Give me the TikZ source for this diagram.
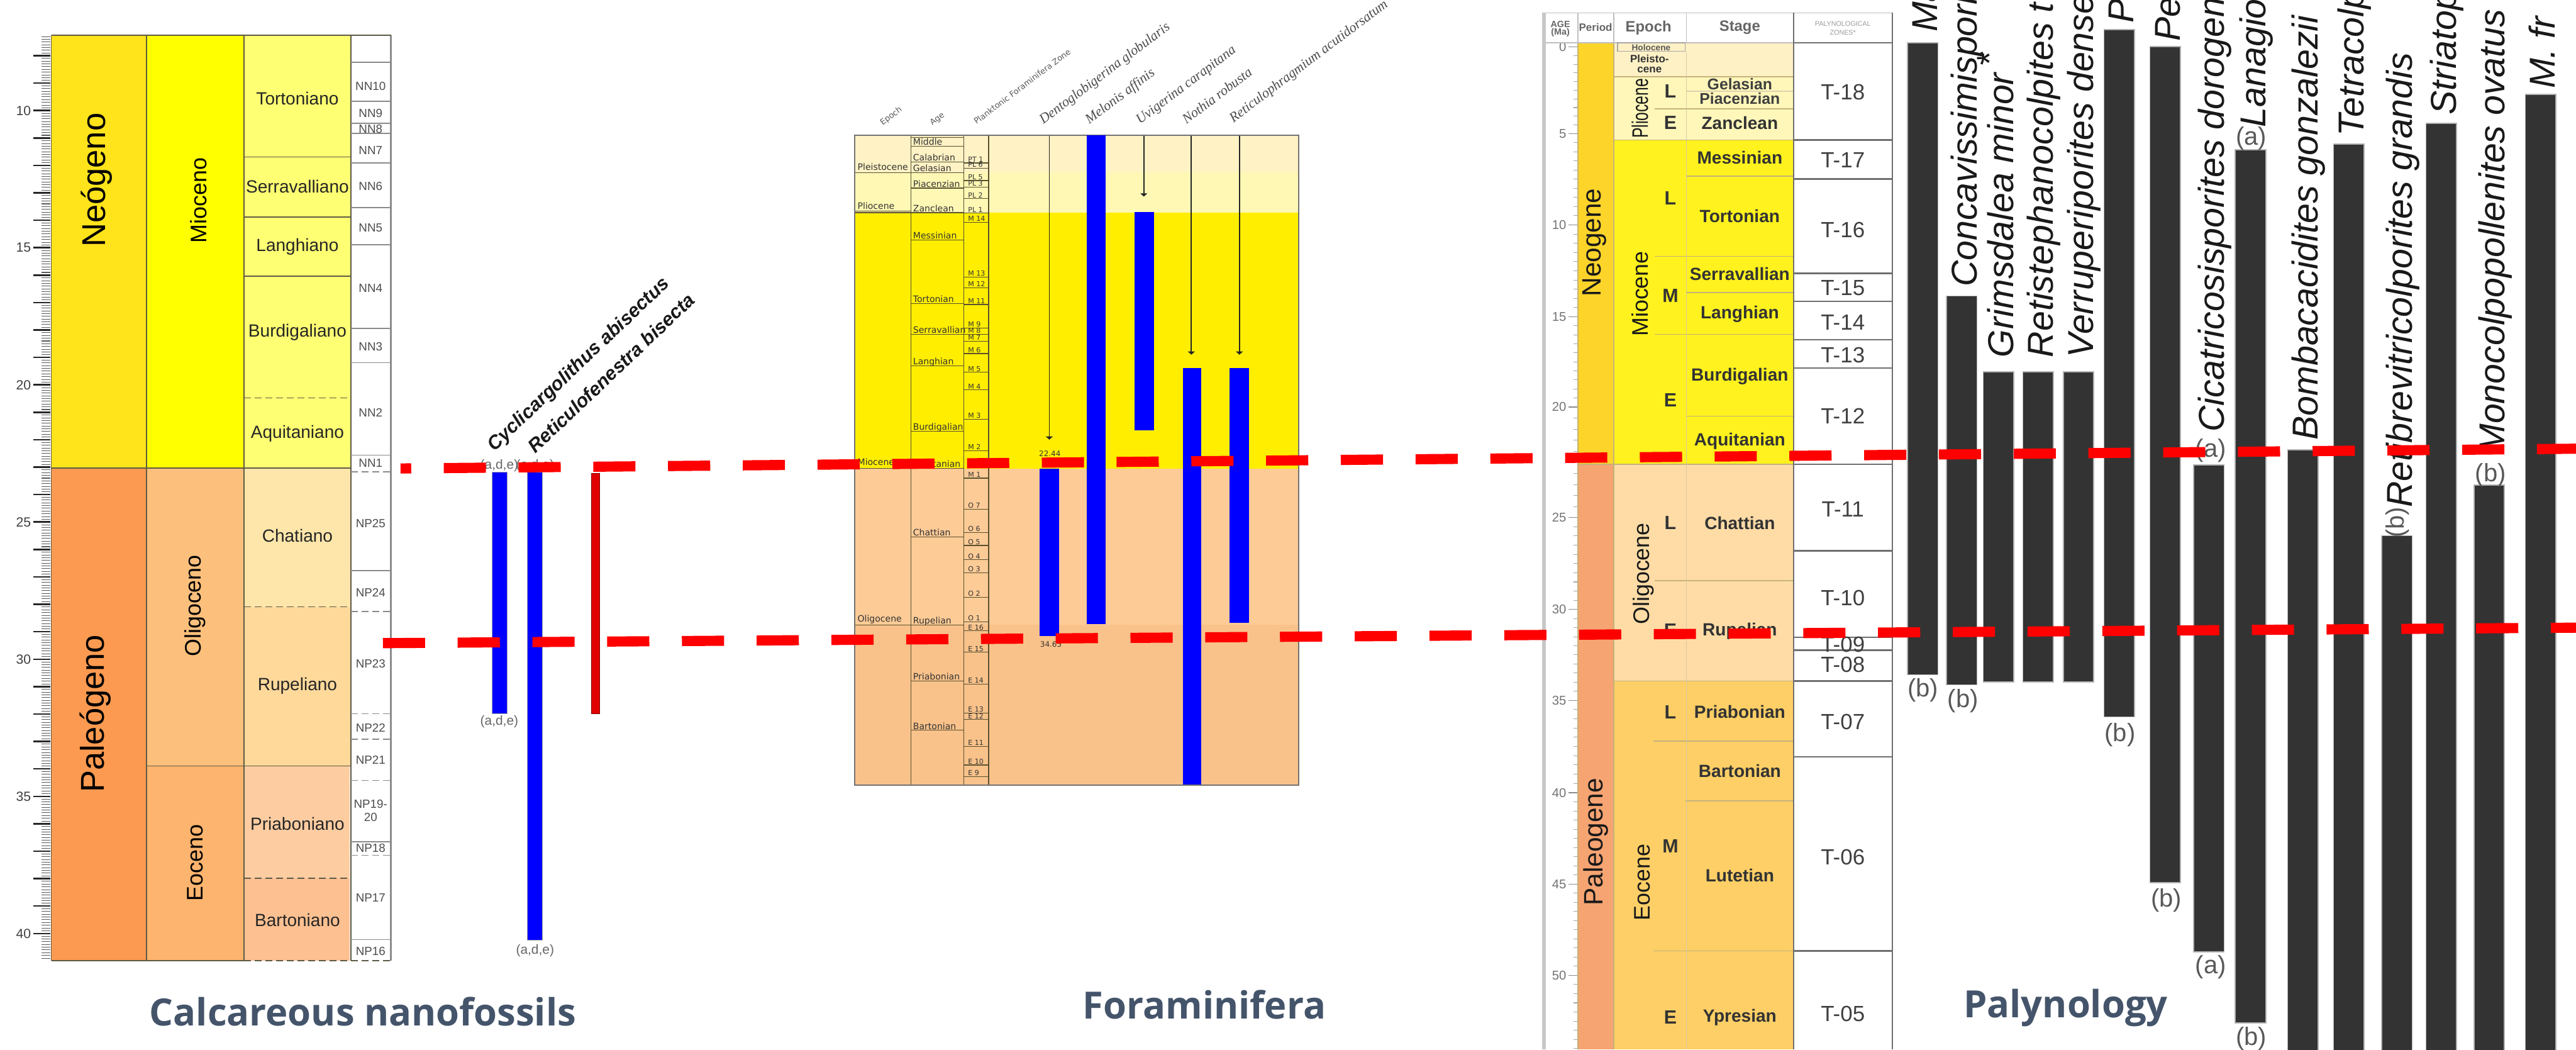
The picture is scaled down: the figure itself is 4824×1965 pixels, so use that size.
\documentclass[tikz,border=0pt]{standalone}
\usepackage{fontspec}
\setmainfont{Liberation Sans}
\newfontfamily\timesface{Liberation Serif}
\newfontfamily\dejavu{DejaVu Sans}
\newfontfamily\titleface{Open Sans}
\usetikzlibrary{arrows.meta}
\newcommand\fsz[1]{\fontsize{#1}{#1}\selectfont}
% nanofossil time scale
\definecolor{ngP}{HTML}{FFE31B}
\definecolor{pgP}{HTML}{FB9A50}
\definecolor{mioE}{HTML}{FFFF00}
\definecolor{oliE}{HTML}{FDC07C}
\definecolor{eocE}{HTML}{FCB46E}
\definecolor{mioS}{HTML}{FFFF73}
\definecolor{chaS}{HTML}{FEE6AA}
\definecolor{rupS}{HTML}{FED99A}
\definecolor{priS}{HTML}{FDCDA1}
\definecolor{barS}{HTML}{FDC091}
\definecolor{cline}{HTML}{5E5A46}
\definecolor{zline}{HTML}{8A8A8A}
% foraminifera chart
\definecolor{fPle}{HTML}{FFF2C4}
\definecolor{fPli}{HTML}{FFF8B5}
\definecolor{fMio}{HTML}{FFEE00}
\definecolor{fOli}{HTML}{FDCB96}
\definecolor{fEoc}{HTML}{F9C28A}
\definecolor{fline}{HTML}{5A5030}
% palynology chart
\definecolor{pNeo}{HTML}{FDD42A}
\definecolor{pPal}{HTML}{F6A472}
\definecolor{pPle}{HTML}{FFF1C6}
\definecolor{pPli}{HTML}{FFF7BA}
\definecolor{pMio}{HTML}{FFF21E}
\definecolor{pOli}{HTML}{FFDCA6}
\definecolor{pEoc}{HTML}{FDCF66}
\definecolor{pline}{HTML}{C4B27A}
\definecolor{zbord}{HTML}{6F6F6F}
\definecolor{taxon}{HTML}{333333}
\definecolor{titleblue}{HTML}{44546A}
\definecolor{dashred}{HTML}{FF0000}
\definecolor{rangeblue}{HTML}{0000FF}
\begin{document}
\begin{tikzpicture}[x=0.1mm,y=-0.1mm,
  every node/.style={inner sep=0pt,outer sep=0pt},
  colline/.style={draw=cline,line width=0.2mm},
  nnline/.style={draw=zline,line width=0.2mm},
  dashgrid/.style={dash pattern=on 1.3mm off 0.7mm},
  minortick/.style={draw=black!65,line width=0.12mm},
  majortick/.style={draw=black!85,line width=0.3mm},
  nstage/.style={font=\fsz{9.4pt},text=black!85},
  nzone/.style={font=\fsz{6.3pt},text=black!70},
  nruler/.style={font=\fsz{7.1pt},text=black!75,anchor=east},
  nperiod/.style={font=\fsz{17.6pt},rotate=90},
  nepoch/.style={font=\fsz{12pt},rotate=90},
  nspec/.style={font=\fsz{10.2pt}\bfseries\itshape,text=black!90,rotate=43.5,anchor=base west},
  nade/.style={font=\fsz{7pt},text=black!60},
  rangebar/.style={fill=rangeblue,draw=black!35,line width=0.1mm},
  fborder/.style={draw=black!55,line width=0.25mm},
  fcol/.style={draw=fline,line width=0.2mm},
  fthin/.style={draw=fline,line width=0.15mm},
  fage/.style={font=\dejavu\fsz{4.7pt},text=black!80,anchor=base west},
  fzone/.style={font=\dejavu\fsz{3.7pt},text=black!80,anchor=base west},
  fhead/.style={font=\dejavu\fsz{4.3pt},text=black!65,rotate=37,anchor=base west},
  fspec/.style={font=\timesface\itshape\fsz{7.4pt},text=black!70,rotate=37,anchor=base west},
  fnum/.style={font=\dejavu\fsz{4pt},text=black!80},
  fbar/.style={fill=rangeblue},
  farrow/.style={draw=black!85,line width=0.22mm,-{Triangle[width=1.3mm,length=0.6mm]}},
  pgrid/.style={draw=pline,line width=0.2mm},
  zgrid/.style={draw=zbord,line width=0.3mm},
  hgrid/.style={draw=black!25,line width=0.2mm},
  ptick/.style={draw=black!35,line width=0.12mm},
  pstage/.style={font=\fsz{9.4pt}\bfseries,text=black!80},
  plme/.style={font=\fsz{10.2pt}\bfseries,text=black!80},
  pzone/.style={font=\fsz{11.7pt},text=black!75},
  pperiod/.style={font=\fsz{14.2pt},rotate=90,text=black!90},
  pepoch/.style={font=\fsz{12pt},rotate=90,text=black!90},
  phead/.style={font=\fsz{8pt}\bfseries,text=black!60},
  pruler/.style={font=\fsz{6.8pt},text=black!55,anchor=east},
  taxbar/.style={fill=taxon,draw=black!30,line width=0.2mm},
  ptaxon/.style={font=\fsz{19.2pt}\itshape,text=black!90,rotate=90,anchor=base west},
  pab/.style={font=\fsz{13.4pt},text=black!65},
  paneltitle/.style={font=\titleface\bfseries\fsz{20pt},text=titleblue,anchor=base west},
  corr/.style={draw=dashred,line width=1.9mm,dash pattern=on 7.9mm off 6.1mm}
]
\useasboundingbox (0,0) rectangle (4824,1965);
\clip (0,0) rectangle (4824,1965);

% ================= Calcareous nanofossils =================
\fill[ngP]  (96,66)   rectangle (274,876);
\fill[pgP]  (96,876)  rectangle (274,1798);
\fill[mioE] (274,66)  rectangle (457,876);
\fill[oliE] (274,876) rectangle (457,1434);
\fill[eocE] (274,1434) rectangle (457,1798);
\fill[mioS] (457,66)  rectangle (657,876);
\fill[chaS] (457,876) rectangle (657,1136);
\fill[rupS] (457,1136) rectangle (657,1434);
\fill[priS] (457,1434) rectangle (655,1644);
\fill[barS] (457,1644) rectangle (655,1798);

% age ruler
\foreach \t in {73,...,409}
  \draw[minortick] (78,{207+(\t/10-10)*51.35}) -- (94,{207+(\t/10-10)*51.35});
\foreach \a in {8,...,40}
  \draw[majortick] (62,{207+(\a-10)*51.35}) -- (94,{207+(\a-10)*51.35});
\foreach \a in {10,15,...,40}
  \node[nruler] (nr\a) at (58,{207+(\a-10)*51.35}) {\a};

% column frame
\foreach \xx in {96,274,457,657}
  \draw[colline] (\xx,66) -- (\xx,1798);
\draw[draw=black!45,line width=0.3mm] (732,66) -- (732,1798);
\draw[colline] (96,66) -- (732,66);
\draw[colline] (457,294) -- (657,294);
\draw[colline] (457,406) -- (657,406);
\draw[colline] (457,517) -- (657,517);
\draw[colline,dashgrid] (457,745) -- (655,745);
\draw[colline] (96,876) -- (657,876);
\draw[colline,dashgrid] (457,1136) -- (657,1136);
\draw[colline] (274,1434) -- (657,1434);
\draw[colline,dashgrid] (457,1644) -- (657,1644);
\draw[colline] (96,1798) -- (457,1798);
\draw[colline,dashgrid] (457,1798) -- (732,1798);
\foreach \yy in {117,190,231,250,305,389,458,615,679,852,1068,1576,1759}
  \draw[nnline] (657,\yy) -- (732,\yy);
\foreach \yy in {883,1145,1336,1384,1461,1601}
  \draw[nnline,dashgrid] (657,\yy) -- (732,\yy);

% period, epoch and stage names
\node[nperiod] (neogeno) at (181,337) {Neógeno};
\node[nperiod] (paleogeno) at (179,1336) {Paleógeno};
\node[nepoch] (mioceno) at (372,375) {Mioceno};
\node[nepoch] (oligoceno) at (365,1134) {Oligoceno};
\node[nepoch] (eoceno) at (366,1615) {Eoceno};
\foreach \lab/\yy [count=\i] in {Tortoniano/184,Serravalliano/349,Langhiano/462,Burdigaliano/622,Aquitaniano/812,Chatiano/1003,Rupeliano/1284,Priaboniano/1542,Bartoniano/1722}
  \node[nstage] (nst\i) at (557,\yy) {\lab};
\foreach \lab/\yy [count=\i] in {NN10/161,NN9/212,NN8/241,NN7/281,NN6/349,NN5/426,NN4/539,NN3/649,NN2/773,NN1/867,NP25/980,NP24/1109,NP23/1243,NP22/1362,NP21/1423,NP18/1588,NP17/1681,NP16/1781}
  \node[nzone] (nz\i) at (694,\yy) {\lab};
\node[nzone] (nz19a) at (694,1505) {NP19-};
\node[nzone] (nz19b) at (694,1530) {20};

% nanofossil ranges
\fill[rangebar] (921,884) rectangle (950,1336);
\fill[rangebar] (988,884) rectangle (1016,1760);
\path[fill=red!88!black,draw=red!50!black,line width=0.1mm] (1107,886) rectangle (1123,1336);
\node[nade] (adeA1) at (935,872) {(a,d,e)};
\node[nade] (adeB1) at (1002,872) {(a,d,e)};
\node[nade] (adeA2) at (935,1351) {(a,d,e)};
\node[nade] (adeB2) at (1002,1780) {(a,d,e)};
\node[nspec] (cycli) at (926,846) {Cyclicargolithus abisectus};
\node[nspec] (retfen) at (1003,850) {Reticulofenestra bisecta};

% ================= Foraminifera =================
\fill[fPle] (1601,253) rectangle (2432,323);
\fill[fPli] (1601,323) rectangle (2432,398);
\fill[fMio] (1601,398) rectangle (2432,877);
\fill[fOli] (1601,877) rectangle (2432,1170);
\fill[fEoc] (1601,1170) rectangle (2432,1470);
\foreach \xx in {1706,1805,1851}
  \draw[fcol] (\xx,253) -- (\xx,1470);
\foreach \yy in {323,395,398,877,1170}
  \draw[fthin] (1601,\yy) -- (1706,\yy);
\foreach \yy in {257,274,303,323,352,398,449,568,626,685,807,877,1005,1170,1275,1367}
  \draw[fthin] (1706,\yy) -- (1805,\yy);
\foreach \yy in {305,315,338,350,372,399,416,519,539,570,614,626,639,662,697,730,785,844,895,953,997,1021,1048,1072,1118,1164,1181,1221,1281,1335,1347,1397,1432,1454}
  \draw[fthin] (1805,\yy) -- (1851,\yy);
\draw[fborder] (1601,253) rectangle (2432,1470);

\foreach \lab/\yy [count=\i] in {Pleistocene/318,Pliocene/392,Miocene/871,Oligocene/1164}
  \node[fage] (fep\i) at (1606,\yy) {\lab};
\foreach \lab/\yy [count=\i] in {Middle/272,Calabrian/301,Gelasian/321,Piacenzian/350,Zanclean/396,Messinian/447,Tortonian/566,Serravallian/624,Langhian/683,Burdigalian/805,Aquitanian/875,Chattian/1003,Rupelian/1168,Priabonian/1273,Bartonian/1365}
  \node[fage] (fag\i) at (1710,\yy) {\lab};
\foreach \lab/\yy [count=\i] in {PT 1/303,PL 6/313,PL 5/336,PL 3/348,PL 2/370,PL 1/398,M 14/414,M 13/517,M 12/537,M 11/568,M 9/612,M 8/624,M 7/637,M 6/660,M 5/695,M 4/728,M 3/783,M 2/842,M 1/893,O 7/951,O 6/995,O 5/1019,O 4/1046,O 3/1070,O 2/1116,O 1/1162,E 16/1179,E 15/1219,E 14/1279,E 13/1333,E 12/1345,E 11/1395,E 10/1430,E 9/1452}
  \node[fzone] (fz\i) at (1813,\yy) {\lab};

\node[fhead] (hEpoch) at (1653,235) {Epoch};
\node[fhead] (hAge) at (1746,235) {Age};
\node[fhead] (hZone) at (1829,233) {Planktonic Foraminifera Zone};
\node[fspec] (sDento) at (1954,233) {Dentoglobigerina globularis};
\node[fspec] (sMelo) at (2040,233) {Melonis affinis};
\node[fspec] (sUvig) at (2135,233) {Uvigerina carapitana};
\node[fspec] (sNoth) at (2222,233) {Nothia robusta};
\node[fspec] (sReti) at (2310,230) {Reticulophragmium acutidorsatum};

\fill[fbar] (1947,877) rectangle (1983,1191);
\fill[fbar] (2035,253) rectangle (2071,1168);
\fill[fbar] (2125,397) rectangle (2161,805);
\fill[fbar] (2215,689) rectangle (2250,1469);
\fill[fbar] (2303,689) rectangle (2339,1166);
\coordinate (aDentoTop) at (1965,254);
\coordinate (aDentoEnd) at (1965,823);
\coordinate (aUvigTop) at (2142,254);
\coordinate (aUvigEnd) at (2142,368);
\coordinate (aNothTop) at (2231,254);
\coordinate (aNothEnd) at (2231,664);
\coordinate (aRetiTop) at (2321,254);
\coordinate (aRetiEnd) at (2321,664);
\draw[farrow] (aDentoTop) -- (aDentoEnd);
\draw[farrow] (aUvigTop) -- (aUvigEnd);
\draw[farrow] (aNothTop) -- (aNothEnd);
\draw[farrow] (aRetiTop) -- (aRetiEnd);
\node[fnum] (nTop) at (1966,849) {22.44};
\node[fnum] (nBase) at (1968,1206) {34.65};

% ================= Palynology =================
\fill[pNeo] (2955,80) rectangle (3022,869);
\fill[pPal] (2955,869) rectangle (3022,1965);
\fill[pPle] (3022,80) rectangle (3359,144);
\fill[pPli] (3022,144) rectangle (3359,262);
\fill[pMio] (3022,262) rectangle (3359,869);
\fill[pOli] (3022,869) rectangle (3359,1275);
\fill[pEoc] (3022,1275) rectangle (3359,1965);

% ruler
\foreach \ya/\yb in {88/250,250/421,421/593,593/762,762/969,969/1141,1141/1311,1311/1484,1484/1655,1655/1826,1826/1997}{
  \foreach \k in {1,...,9}
    \draw[ptick] (2947,{\ya+\k*(\yb-\ya)/10}) -- (2955,{\ya+\k*(\yb-\ya)/10});
  \draw[draw=black!45,line width=0.15mm] (2937,\ya) -- (2955,\ya);
}
\foreach \a/\yy in {0/88,5/250,10/421,15/593,20/762,25/969,30/1141,35/1311,40/1484,45/1655,50/1826}
  \node[pruler] (pr\a) at (2933,\yy) {\a};

% grid of the time scale
\draw[pgrid] (2955,869) -- (3359,869);
\draw[pgrid] (3022,144) -- (3359,144);
\draw[pgrid] (3098,204) -- (3359,204);
\draw[pgrid,draw=pline!60] (3158,171) -- (3359,171);
\draw[pgrid] (3022,262) -- (3359,262);
\draw[pgrid] (3158,330) -- (3359,330);
\draw[pgrid] (3098,480) -- (3359,480);
\draw[pgrid] (3158,548) -- (3359,548);
\draw[pgrid] (3098,626) -- (3359,626);
\draw[pgrid] (3158,779) -- (3359,779);
\draw[pgrid] (3098,1087) -- (3359,1087);
\draw[pgrid] (3022,1275) -- (3359,1275);
\draw[pgrid] (3096,1387) -- (3359,1387);
\draw[pgrid] (3156,1499) -- (3359,1499);
\draw[pgrid] (3096,1780) -- (3359,1780);
\draw[pgrid] (2955,80) -- (2955,1965);
\draw[pgrid] (3022,80) -- (3022,1965);
\draw[pgrid,draw=pline!70] (3158,96) -- (3158,1965);

% header row
\draw[hgrid] (2892,24) -- (3544,24);
\draw[hgrid] (2892,80) -- (3359,80);
\foreach \xx in {2955,3022,3158}
  \draw[hgrid] (\xx,24) -- (\xx,80);
\draw[draw=black!22,line width=0.7mm] (2891,24) -- (2891,1965);
\node[font=\fsz{4.8pt}\bfseries,text=black!60] (hAgeA) at (2922,45) {AGE};
\node[font=\fsz{4.8pt}\bfseries,text=black!60] (hAgeB) at (2922,61) {(Ma)};
\node[font=\fsz{5.7pt}\bfseries,text=black!60] (hPeriod) at (2988,51) {Period};
\node[phead] (hEp) at (3087,52) {Epoch};
\node[phead] (hSt) at (3258,52) {Stage};
\node[font=\fsz{3.6pt},text=black!40] (hPalA) at (3451,44) {PALYNOLOGICAL};
\node[font=\fsz{3.6pt},text=black!40] (hPalB) at (3451,61) {ZONES*};

% Holocene / Pleistocene
\draw[fill=pPle,draw=black!35,line width=0.15mm] (3029,80) rectangle (3156,96);
\node[font=\fsz{4.6pt}\bfseries,text=black!65] (holo) at (3092,88.5) {Holocene};
\node[font=\fsz{5.7pt}\bfseries,text=black!80] (pleiA) at (3089,110) {Pleisto-};
\node[font=\fsz{5.7pt}\bfseries,text=black!80] (pleiB) at (3089,131) {cene};

% period and epoch names
\node[pperiod] (pNeogene) at (2986,454) {Neogene};
\node[pperiod] (pPaleogene) at (2988,1576) {Paleogene};
\node[pepoch] (pPlio) at (3071,203) {\scalebox{0.69}[1]{Pliocene}};
\node[pepoch] (pMioc) at (3071,550) {Miocene};
\node[pepoch] (pOlig) at (3078,1074) {Oligocene};
\node[pepoch] (pEoce) at (3075,1652) {Eocene};
\foreach \lab/\yy [count=\i] in {L/171,E/230,L/371,M/554,E/749,L/979,E/1180,L/1333,M/1584,E/1905}
  \node[plme] (plme\i) at (3128,\yy) {\lab};
\node[font=\fsz{8.3pt}\bfseries,text=black!75] (pGel) at (3258,158) {Gelasian};
\node[font=\fsz{8.3pt}\bfseries,text=black!75] (pPia) at (3258,185) {Piacenzian};
\foreach \lab/\yy [count=\i] in {Zanclean/230,Messinian/295,Tortonian/405,Serravallian/513,Langhian/588,Burdigalian/705,Aquitanian/826,Chattian/979,Rupelian/1182,Priabonian/1333,Bartonian/1443,Lutetian/1639,Ypresian/1905}
  \node[pstage] (pst\i) at (3258,\yy) {\lab};

% palynological zones
\draw[zgrid] (3359,24) -- (3359,1965);
\draw[zgrid] (3544,24) -- (3544,1965);
\foreach \yy in {80,262,335,512,564,636,689,869,1031,1193,1217,1275,1417,1780}
  \draw[zgrid] (3359,\yy) -- (3544,\yy);
\foreach \lab/\yy [count=\i] in {T-18/173,T-17/300,T-16/430,T-15/539,T-14/603,T-13/665,T-12/779,T-11/953,T-10/1120,T-09/1206,T-08/1244,T-07/1351,T-06/1605,T-05/1898}
  \node[pzone] (tz\i) at (3451,\yy) {\lab};

% taxon ranges
\foreach \xa/\ya/\yb in {3572/80/1263,3645/554/1282,3714/696/1277,3788/696/1277,3864/696/1277,3940/55/1342,4026/87/1652,4108/870/1782,4186/280/1915,4284/842/1990,4370/270/1990,4460/1003/1990,4543/231/1990,4633/908/1990,4729/177/1990}
  \path[taxbar] (\xa,\ya) rectangle ({\xa+57},\yb);

\node[ptaxon] (tx1) at (3628,60) {Ma};
\node[ptaxon] (tx2) at (3702,537) {Concavissimisporites};
\node[ptaxon] (tx3) at (3771,669) {Grimsdalea minor\,\raisebox{0.6ex}{*}};
\node[ptaxon] (tx4) at (3845,669) {Retistephanocolpites t};
\node[ptaxon] (tx5) at (3920,669) {Verruperiporites dense};
\node[ptaxon] (tx6) at (3996,43) {P};
\node[ptaxon] (tx7) at (4082,77) {Pe};
\node[ptaxon] (tx8) at (4165,809) {Cicatricosisporites dorogen};
\node[ptaxon] (tx9) at (4243,238) {Lanagio};
\node[ptaxon] (tx10) at (4340,824) {Bombacacidites gonzalezii};
\node[ptaxon] (tx11) at (4426,255) {Tetracolp};
\node[ptaxon] (tx12) at (4517,950) {Retibrevitricolporites grandis};
\node[ptaxon] (tx13) at (4600,215) {Striatop};
\node[ptaxon] (tx14) at (4690,850) {Monocolpopollenites ovatus};
\node[ptaxon] (tx15) at (4784,166) {M. fr};

\node[pab] (ab1) at (3601,1292) {(b)};
\node[pab] (ab2) at (3676,1312) {(b)};
\node[pab] (ab6) at (3970,1376) {(b)};
\node[pab] (ab7) at (4057,1686) {(b)};
\node[pab] (ab8t) at (4140,844) {(a)};
\node[pab] (ab8b) at (4140,1810) {(a)};
\node[pab] (ab9t) at (4216,259) {(a)};
\node[pab] (ab9b) at (4216,1945) {(b)};
\node[pab,rotate=90] (ab12) at (4490,978) {(b)};
\node[pab] (ab14) at (4664,889) {(b)};

% ================= panel titles =================
\node[paneltitle] (tCal) at (280,1920) {Calcareous nanofossils};
\node[paneltitle] (tFor) at (2028,1907) {Foraminifera};
\node[paneltitle] (tPal) at (3677,1905) {Palynology};

% ================= correlation lines =================
\coordinate (upL) at (750,877);
\coordinate (upR) at (4824,840);
\coordinate (loL) at (717,1204);
\coordinate (loR) at (4824,1175);
\draw[corr,dash phase=5.9mm] (upL) -- (upR);
\draw[corr] (loL) -- (loR);
\end{tikzpicture}
\end{document}
